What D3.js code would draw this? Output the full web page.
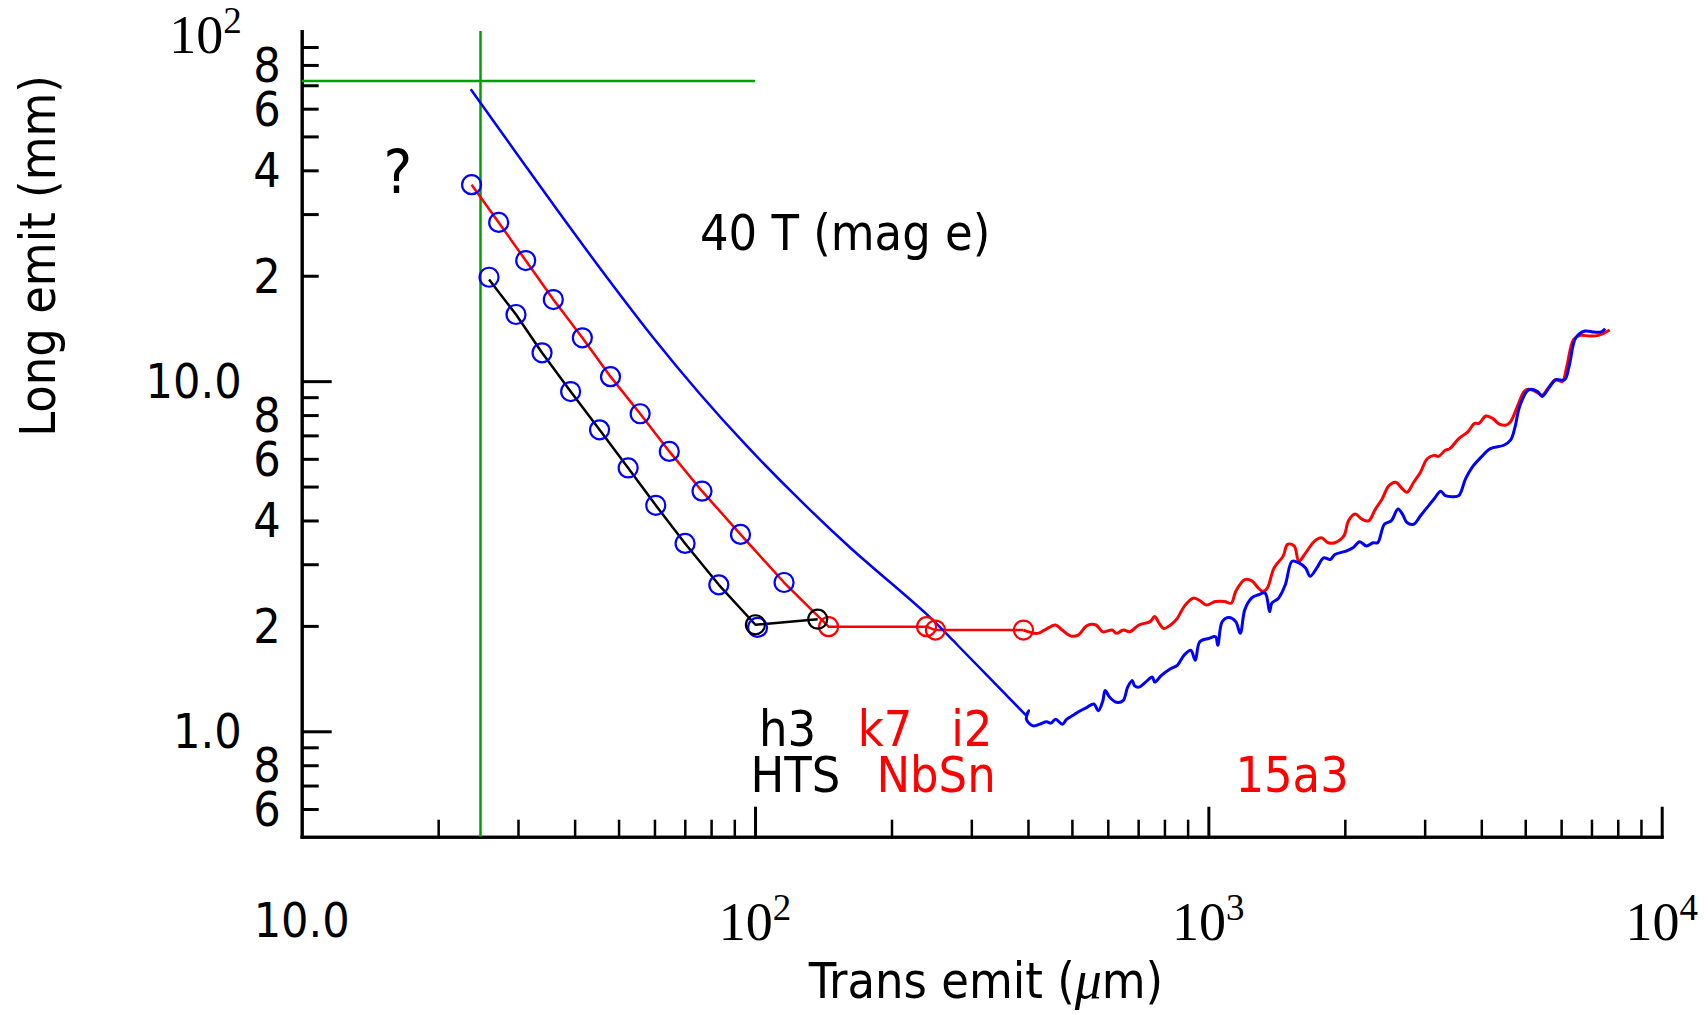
<!DOCTYPE html>
<html>
<head>
<meta charset="utf-8">
<script src="https://cdn.jsdelivr.net/npm/d3@7"></script>
<style>
  body { margin: 0; background: #fff; }
  svg { display: block; }
  .sans { font-family: "DejaVu Sans Condensed", "DejaVu Sans", sans-serif; font-stretch: condensed; }
  .serif { font-family: "Liberation Serif", "DejaVu Serif", serif; }
</style>
</head>
<body>
<svg id="chart" width="1705" height="1014"></svg>
<script>
// 축 눈금
const xMinorTicks = [20, 30, 40, 50, 60, 70, 80, 90, 200, 300, 400, 500, 600, 700, 800, 900,
  2000, 3000, 4000, 5000, 6000, 7000, 8000, 9000];
const xMajorTicks = [100, 1000, 10000];
const xLabelValues = [10, 100, 1000, 10000];
const xLabelBase = ['10.0', '10', '10', '10'];
const xLabelExp = ['', '2', '3', '4'];

const yMinorTicks = [0.6, 0.7, 0.8, 0.9, 2, 3, 4, 5, 6, 7, 8, 9, 20, 30, 40, 50, 60, 70, 80, 90];
const yMajorTicks = [1, 10];
const yMinorLabelValues = [0.6, 0.8, 2, 4, 6, 8, 20, 40, 60, 80];
const yMinorLabelText = ['6', '8', '2', '4', '6', '8', '2', '4', '6', '8'];
const yMajorLabelValues = [1, 10, 100];
const yMajorLabelBase = ['1.0', '10.0', '10'];
const yMajorLabelExp = ['', '', '2'];

// 40 T (mag e) 곡선
const magEX = [23.6, 29.55, 37.1, 47.1, 59.7, 75.6, 95.9, 125.7, 162, 239, 273.8, 283, 396.7];
const magEY = [68.2, 45.35, 30.1, 19.8, 13.28, 9.19, 6.53, 4.57, 3.35, 2.16, 1.814, 1.735, 1.108];
const magETailX = [396.7, 401.2, 396.7, 410.6, 424.9, 439.7, 449.8, 460.3, 476.3, 487.3, 504.3, 521.9,
  540.1, 558.9, 571.9, 585.2, 592, 605.7, 626.9, 648.6, 663.7, 679.2, 686.9, 702.8, 727.1, 752.5,
  761.3, 787.9, 825, 854, 883.7, 914.5, 935.6, 957.3, 1002, 1037, 1049, 1073, 1110, 1149, 1176,
  1203, 1245, 1289, 1334, 1365, 1380, 1428, 1478, 1530, 1583, 1639, 1676, 1735, 1796, 1858, 1901,
  2013, 2084, 2157, 2232, 2309, 2363, 2445, 2531, 2620, 2680, 2742, 2838, 2937, 3039, 3146, 3255,
  3331, 3447, 3567, 3692, 3821, 3999, 4188, 4485, 4641, 4749, 4859, 5085, 5324, 5446, 5636, 5833,
  6107, 6248, 6466, 6771, 7087, 7336, 7505];
const magETailY = [1.108, 1.145, 1.083, 1.036, 1.048, 1.064, 1.055, 1.083, 1.048, 1.083, 1.113, 1.145,
  1.171, 1.197, 1.145, 1.223, 1.307, 1.251, 1.21, 1.223, 1.337, 1.397, 1.351, 1.337, 1.382, 1.428,
  1.382, 1.444, 1.509, 1.543, 1.649, 1.704, 1.595, 1.801, 1.841, 1.862, 1.762, 2.057, 2.112, 2.057, 1.904,
  2.222, 2.4, 2.454, 2.481, 2.197, 2.322, 2.4, 2.622, 3.06, 3.027, 2.928, 2.771, 2.928, 3.129, 3.095, 3.199,
  3.27, 3.343, 3.479, 3.381, 3.456, 3.456, 3.903, 3.99, 4.311, 4.171, 3.946, 3.903, 4.125, 4.359, 4.607, 4.846,
  4.709, 4.678, 4.709, 5.259, 5.681, 6.071, 6.416, 6.56, 6.781, 7.408, 8.456, 9.445, 9.342, 9.036, 9.55, 10.09,
  10.09, 11.03, 13.3, 13.9, 13.81, 13.81, 14.12];

// NbSn (k7, i2, 15a3) 곡선
const nbsnX = [23.7, 27.2, 31.2, 35.9, 41.6, 48.0, 55.8, 64.7, 76.4, 92.9, 115.9, 145.3, 239, 250, 391];
const nbsnY = [36.4, 28.4, 22.1, 17.1, 13.3, 10.3, 8.07, 6.3, 4.85, 3.65, 2.66, 1.99, 1.99, 1.946, 1.946];
const nbsnTailX = [391, 420, 435, 460, 476, 498, 516, 540, 565, 585, 613, 627, 649, 671, 703, 744, 761,
  779, 797, 825, 854, 884, 925, 957, 990, 1037, 1085, 1123, 1149, 1203, 1245, 1289, 1319, 1349, 1396,
  1462, 1495, 1547, 1583, 1639, 1715, 1775, 1837, 1901, 1990, 2037, 2108, 2182, 2257, 2336, 2417, 2502,
  2590, 2680, 2742, 2838, 2937, 3039, 3146, 3218, 3331, 3408, 3567, 3735, 3865, 3954, 4092, 4235, 4382,
  4537, 4641, 4803, 4971, 5085, 5263, 5446, 5636, 5833, 6037, 6177, 6393, 6616, 6927, 7251, 7678];
const nbsnTailY = [1.946, 1.904, 1.946, 2.012, 1.946, 1.87, 1.883, 2.003, 2.012, 1.924, 1.946, 1.904,
  1.946, 1.924, 2.012, 2.057, 2.126, 2.034, 1.967, 2.012, 2.102, 2.271, 2.4, 2.363, 2.296, 2.348, 2.348,
  2.322, 2.508, 2.71, 2.693, 2.565, 2.508, 2.565, 2.928, 3.164, 3.418, 3.381, 3.06, 3.234, 3.494, 3.573,
  3.456, 3.456, 3.613, 3.99, 4.171, 4.035, 3.99, 4.311, 4.607, 5.031, 5.144, 4.921, 4.813, 5.144, 5.497,
  6.004, 6.138, 6.097, 6.346, 6.416, 6.856, 7.166, 7.573, 7.573, 7.95, 7.827, 7.539, 7.49, 7.657, 8.456,
  9.342, 9.487, 9.342, 9.138, 9.614, 10.09, 9.98, 11.03, 13.15, 13.51, 13.45, 13.51, 14.0];
const nbsnMarkX = [145.3, 239, 250, 391];
const nbsnMarkY = [1.99, 1.99, 1.946, 1.946];

// HTS (h3) 곡선
const htsX = [25.9, 29.7, 33.9, 39.2, 45.4, 52.5, 60.4, 70.1, 83.2, 100.2, 137.5];
const htsY = [19.5, 15.5, 12.05, 9.34, 7.26, 5.65, 4.42, 3.44, 2.62, 2.015, 2.09];
const htsMarkX = [100.2, 137.5];
const htsMarkY = [2.015, 2.09];

// 파란 원 마커 (두 줄)
const upperCircX = [23.7, 27.2, 31.2, 35.9, 41.6, 48.0, 55.8, 64.7, 76.4, 92.9, 115.9];
const upperCircY = [36.4, 28.4, 22.1, 17.1, 13.3, 10.3, 8.07, 6.3, 4.85, 3.65, 2.66];
const lowerCircX = [25.9, 29.7, 33.9, 39.2, 45.4, 52.5, 60.4, 70.1, 83.2, 101.3];
const lowerCircY = [19.8, 15.5, 12.05, 9.34, 7.26, 5.65, 4.42, 3.44, 2.62, 1.98];

// 녹색 기준선
const greenTrans = 24.8;
const greenLong = 72;

// 주석 (데이터 좌표)
const notes = [
  { text: '?', x: 16.3, y: 34.4, color: '#000', size: 60 },
  { text: '40 T (mag e)', x: 158, y: 23.7, color: '#000', size: 50 },
  { text: 'h3', x: 118, y: 0.908, color: '#000', size: 50 },
  { text: 'k7', x: 193.6, y: 0.908, color: '#ff0000', size: 50 },
  { text: 'i2', x: 300.6, y: 0.908, color: '#ff0000', size: 50 },
  { text: 'HTS', x: 122.8, y: 0.672, color: '#000', size: 50 },
  { text: 'NbSn', x: 250.8, y: 0.672, color: '#ff0000', size: 50 },
  { text: '15a3', x: 1530, y: 0.672, color: '#ff0000', size: 50 },
];

const svg = d3.select('#chart');
const plotLeft = 301.7, plotRight = 1661.7, plotTop = 31, plotBottom = 836.7;

const x = d3.scaleLog().domain([10, 10000]).range([plotLeft, plotRight]);
const y = d3.scaleLog().domain([0.5, 100]).range([plotBottom, plotTop]);

// y축
const yAxisG = svg.append('g').attr('transform', `translate(${plotLeft},0)`);
yAxisG.append('g')
  .call(d3.axisRight(y).tickValues(yMinorTicks).tickSize(17).tickSizeOuter(0).tickFormat(''))
  .call((g) => g.selectAll('.tick line').attr('stroke-width', 3));
yAxisG.append('g')
  .call(d3.axisRight(y).tickValues(yMajorTicks).tickSize(30).tickSizeOuter(0).tickFormat(''))
  .call((g) => g.selectAll('.tick line').attr('stroke-width', 3));
yAxisG.selectAll('.domain').attr('stroke-width', 3).attr('stroke-linecap', 'square');

// x축
const xAxisG = svg.append('g').attr('transform', `translate(0,${plotBottom})`);
xAxisG.append('g')
  .call(d3.axisTop(x).tickValues(xMinorTicks).tickSize(17).tickSizeOuter(0).tickFormat(''))
  .call((g) => g.selectAll('.tick line').attr('stroke-width', 2.5));
xAxisG.append('g')
  .call(d3.axisTop(x).tickValues(xMajorTicks).tickSize(30).tickSizeOuter(0).tickFormat(''))
  .call((g) => g.selectAll('.tick line').attr('stroke-width', 3));
xAxisG.selectAll('.domain').attr('stroke-width', 3).attr('stroke-linecap', 'square');

// 눈금 라벨
svg.append('g').selectAll('text')
  .data(yMinorLabelValues)
  .join('text')
  .attr('class', 'sans')
  .attr('x', plotLeft - 21)
  .attr('y', (d) => y(d) + 17)
  .attr('text-anchor', 'end')
  .attr('font-size', 48)
  .text((d, i) => yMinorLabelText[i]);

const yMaj = svg.append('g').selectAll('text')
  .data(yMajorLabelValues)
  .join('text')
  .attr('x', plotLeft - 60)
  .attr('y', (d, i) => (yMajorLabelExp[i] ? y(d) + 22 : y(d) + 17))
  .attr('text-anchor', 'end');
yMaj.append('tspan')
  .attr('class', (d, i) => (yMajorLabelExp[i] ? 'serif' : 'sans'))
  .attr('font-size', (d, i) => (yMajorLabelExp[i] ? 54 : 48))
  .text((d, i) => yMajorLabelBase[i]);
yMaj.append('tspan')
  .attr('class', 'serif')
  .attr('font-size', 37)
  .attr('dy', -20)
  .text((d, i) => yMajorLabelExp[i]);

const xLab = svg.append('g').selectAll('text')
  .data(xLabelValues)
  .join('text')
  .attr('x', (d) => x(d))
  .attr('y', (d, i) => (xLabelExp[i] ? 940 : 937))
  .attr('text-anchor', 'middle');
xLab.append('tspan')
  .attr('class', (d, i) => (xLabelExp[i] ? 'serif' : 'sans'))
  .attr('font-size', (d, i) => (xLabelExp[i] ? 54 : 48))
  .text((d, i) => xLabelBase[i]);
xLab.append('tspan')
  .attr('class', 'serif')
  .attr('font-size', 37)
  .attr('dy', -20)
  .text((d, i) => xLabelExp[i]);

// 축 제목
const xTitle = svg.append('text')
  .attr('class', 'sans')
  .attr('x', 986)
  .attr('y', 998)
  .attr('text-anchor', 'middle')
  .attr('font-size', 50);
xTitle.append('tspan').text('Trans emit (');
xTitle.append('tspan').attr('class', 'serif').attr('font-style', 'italic').attr('font-size', 54).text('μ');
xTitle.append('tspan').text('m)');

svg.append('text')
  .attr('class', 'sans')
  .attr('transform', 'translate(55,256) rotate(-90)')
  .attr('text-anchor', 'middle')
  .attr('font-size', 50)
  .text('Long emit (mm)');

// 녹색 기준선
svg.append('line')
  .attr('x1', x(greenTrans)).attr('x2', x(greenTrans))
  .attr('y1', y(100)).attr('y2', y(0.5))
  .attr('stroke', '#00a000').attr('stroke-width', 2.5);
svg.append('line')
  .attr('x1', x(10)).attr('x2', x(100))
  .attr('y1', y(greenLong)).attr('y2', y(greenLong))
  .attr('stroke', '#00a000').attr('stroke-width', 2.5);

const lineLin = d3.line().x((d) => x(d[0])).y((d) => y(d[1]));
const lineSmooth = d3.line().x((d) => x(d[0])).y((d) => y(d[1])).curve(d3.curveCatmullRom.alpha(0.5));

const drawPath = (xs, ys, gen, color, width) => {
  svg.append('path')
    .datum(d3.zip(xs, ys))
    .attr('d', gen)
    .attr('fill', 'none')
    .attr('stroke', color)
    .attr('stroke-width', width)
    .attr('stroke-linejoin', 'round');
};

drawPath(htsX, htsY, lineLin, '#000', 2.5);
drawPath(nbsnX, nbsnY, lineLin, '#ff0000', 2.5);
drawPath(nbsnTailX, nbsnTailY, lineSmooth, '#ff0000', 3);
drawPath(magEX, magEY, lineSmooth, '#0000ff', 2.5);
drawPath(magETailX, magETailY, lineSmooth, '#0000ff', 3);

const drawCircles = (xs, ys, color) => {
  svg.append('g').selectAll('circle')
    .data(d3.zip(xs, ys))
    .join('circle')
    .attr('cx', (d) => x(d[0]))
    .attr('cy', (d) => y(d[1]))
    .attr('r', 9.5)
    .attr('fill', 'none')
    .attr('stroke', color)
    .attr('stroke-width', 2.2);
};

drawCircles(upperCircX, upperCircY, '#0000ff');
drawCircles(lowerCircX, lowerCircY, '#0000ff');
drawCircles(nbsnMarkX, nbsnMarkY, '#ff0000');
drawCircles(htsMarkX, htsMarkY, '#000');

// 주석
svg.append('g').selectAll('text')
  .data(notes)
  .join('text')
  .attr('class', 'sans')
  .attr('x', (d) => x(d.x))
  .attr('y', (d) => y(d.y))
  .attr('text-anchor', 'middle')
  .attr('font-size', (d) => d.size)
  .attr('fill', (d) => d.color)
  .text((d) => d.text);
</script>
</body>
</html>
